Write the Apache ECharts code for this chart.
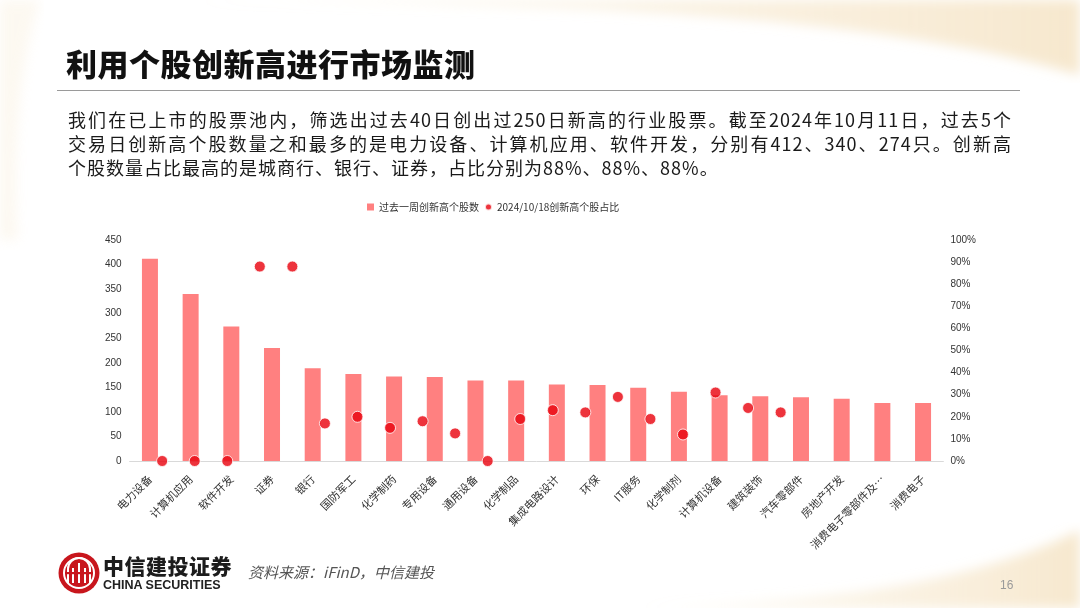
<!DOCTYPE html>
<html>
<head>
<meta charset="utf-8">
<script src="https://cdn.jsdelivr.net/npm/echarts@6/dist/echarts.min.js"></script>
<style>
  html, body { margin: 0; padding: 0; background: #fff; }
  #page { position: relative; width: 1080px; height: 608px; overflow: hidden; background: #fff;
          font-family: "Noto Sans CJK SC", "Liberation Sans", sans-serif; }
  #bg { position: absolute; left: 0; top: 0; }
  #chart { position: absolute; left: 0; top: 0; width: 1080px; height: 608px; }
  .title { position: absolute; left: 66px; top: 45px; font-size: 31px; line-height: 35px;
           font-weight: 900; color: #111; letter-spacing: 0.5px; }
  .rule { position: absolute; left: 57px; top: 90px; width: 963px; height: 0;
          border-top: 1.5px solid #9a9a9a; }
  .para { position: absolute; left: 68px; top: 107px; width: 944px; font-size: 18px;
          line-height: 24px; color: #1a1a1a; letter-spacing: 1px; }
  .para div { text-align: justify; text-align-last: justify; white-space: nowrap; }
  .para div.last { text-align-last: left; }
  .brand { position: absolute; left: 103px; top: 553px; font-size: 21px; line-height: 24px;
           font-weight: 900; color: #1c1c1c; letter-spacing: 0.5px; }
  .brand-en { position: absolute; left: 103px; top: 578px; font-size: 12.5px; line-height: 14px;
              font-family: "Liberation Sans", Arial, sans-serif; font-weight: 700; color: #222; }
  .source { position: absolute; left: 248px; top: 561px; font-size: 15px; line-height: 22px;
            font-style: italic; color: #555; }
  .pageno { position: absolute; left: 1000px; top: 578px; font-size: 12px;
            font-family: "Liberation Sans", Arial, sans-serif; color: #9a9a9a; }
</style>
</head>
<body>
<div id="page">
  <svg id="bg" width="1080" height="608">
    <defs>
      <filter id="soft"><feGaussianBlur stdDeviation="6"/></filter>
      <linearGradient id="cream" x1="0" y1="0" x2="1" y2="0">
        <stop offset="0" stop-color="#f6e6c8" stop-opacity="0.15"/>
        <stop offset="0.5" stop-color="#f6e6c8" stop-opacity="0.45"/>
        <stop offset="1" stop-color="#f2dcb4" stop-opacity="0.65"/>
      </linearGradient>
    </defs>
    <path d="M120,0 L1080,0 L1080,75 C960,40 800,20 600,10 C400,2 250,0 120,0 Z" fill="url(#cream)" filter="url(#soft)"/>
    <path d="M0,0 L40,0 C20,60 12,150 18,240 L0,240 Z" fill="#f6e6c8" opacity="0.25" filter="url(#soft)"/>
    <path d="M640,608 C820,602 970,585 1080,530 L1080,608 Z" fill="url(#cream)" filter="url(#soft)"/>
  </svg>
  <div id="chart"></div>
  <div class="title">利用个股创新高进行市场监测</div>
  <div class="rule"></div>
  <div class="para">
    <div>我们在已上市的股票池内，筛选出过去40日创出过250日新高的行业股票。截至2024年10月11日，过去5个</div>
    <div>交易日创新高个股数量之和最多的是电力设备、计算机应用、软件开发，分别有412、340、274只。创新高</div>
    <div class="last">个股数量占比最高的是城商行、银行、证券，占比分别为88%、88%、88%。</div>
  </div>
  <svg style="position:absolute;left:57px;top:551px" width="44" height="44" viewBox="0 0 44 44">
    <circle cx="22" cy="22" r="20.5" fill="#c8161d"/>
    <circle cx="22" cy="22" r="15" fill="none" stroke="#fff" stroke-width="2"/>
    <path d="M11,32 L11,18 A11,11 0 0 1 33,18 L33,32" fill="none" stroke="#fff" stroke-width="2"/>
    <path d="M16,32 L16,17 M22,32 L22,12 M28,32 L28,17" stroke="#fff" stroke-width="2"/>
    <rect x="8" y="21" width="28" height="2.2" fill="#c8161d"/>
  </svg>
  <div class="brand">中信建投证券</div>
  <div class="brand-en">CHINA SECURITIES</div>
  <div class="source">资料来源：iFinD，中信建投</div>
  <div class="pageno">16</div>
</div>
<script>
// 行业（按过去一周创新高个股数排序）
var industries = ['电力设备', '计算机应用', '软件开发', '证券', '银行', '国防军工', '化学制药', '专用设备',
  '通用设备', '化学制品', '集成电路设计', '环保', 'IT服务', '化学制剂', '计算机设备', '建筑装饰',
  '汽车零部件', '房地产开发', '消费电子零部件及…', '消费电子']
// 过去一周创新高个股数
var weekCounts = [412, 340, 274, 230, 189, 177, 172, 171, 164, 164, 156, 155, 149, 141, 134, 132, 130, 127, 118, 118]
// 2024/10/18 创新高个股占比（%）
var ratioPct = [0, 0, 0, 88, 88, 17, 20, 15, 18, 12.5, 0, 19, 23, 22, 29, 19, 12, 31, 24, 22]
var countTicks = [0, 450, 50]
var pctTicks = [0, 100, 10]

var nameBar = '过去一周创新高个股数'
var nameDot = '2024/10/18创新高个股占比'

var chart = echarts.init(document.getElementById('chart'), null, { renderer: 'canvas' })
chart.setOption({
  animation: false,
  textStyle: { fontFamily: 'Liberation Sans, Arial, sans-serif' },
  legend: {
    left: 362,
    top: 197,
    itemWidth: 7,
    itemHeight: 7,
    itemGap: 5,
    textStyle: { fontSize: 10, color: '#333', fontFamily: 'Noto Sans CJK SC' },
    data: [{ name: nameBar, icon: 'rect' }, { name: nameDot, icon: 'circle' }]
  },
  grid: { left: 129.6, right: 136.6, top: 240, bottom: 147 },
  xAxis: [
    {
      type: 'category',
      data: industries,
      axisLine: { lineStyle: { color: '#d9d9d9', width: 1 } },
      axisTick: { show: false },
      axisLabel: {
        rotate: 45,
        interval: 0,
        margin: 16,
        fontSize: 11,
        color: '#333',
        fontFamily: 'Noto Sans CJK SC'
      }
    },
    // 次坐标轴（Excel 副轴的分类位置与主轴不一致）
    { type: 'value', min: 0, max: 25, show: false }
  ],
  yAxis: [
    {
      type: 'value',
      min: countTicks[0],
      max: countTicks[1],
      interval: countTicks[2],
      splitLine: { show: false },
      axisLine: { show: false },
      axisTick: { show: false },
      axisLabel: { fontSize: 10, color: '#333', margin: 8 }
    },
    {
      type: 'value',
      min: pctTicks[0],
      max: pctTicks[1],
      interval: pctTicks[2],
      splitLine: { show: false },
      axisLine: { show: false },
      axisTick: { show: false },
      axisLabel: { fontSize: 10, color: '#333', margin: 7, formatter: '{value}%' }
    }
  ],
  series: [
    {
      name: nameBar,
      type: 'bar',
      data: weekCounts,
      barWidth: 16,
      itemStyle: { color: '#FF8080' }
    },
    {
      name: nameDot,
      type: 'scatter',
      xAxisIndex: 1,
      yAxisIndex: 1,
      data: ratioPct.map(function (v, i) { return [i + 1, v] }),
      symbolSize: 11,
      itemStyle: { color: '#E8000B', borderColor: '#fff', borderWidth: 1 }
    }
  ]
})
</script>
</body>
</html>
